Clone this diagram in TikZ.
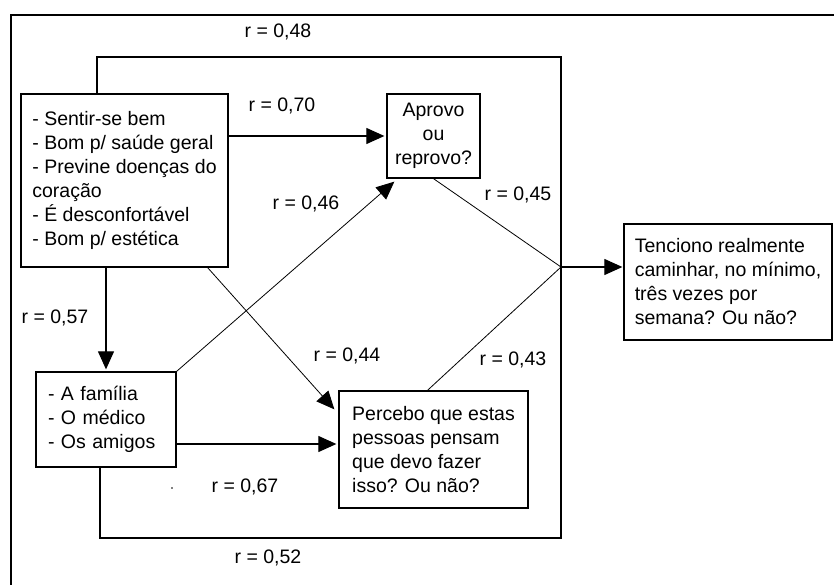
\documentclass[tikz,border=0pt]{standalone}
\usepackage{fontspec}
\setmainfont{Liberation Sans}
\usetikzlibrary{arrows.meta}

\tikzset{
	caixa/.style={draw, line width=1.3pt, align=left, minimum width=#1},
	seta/.style={-{Triangle[length=18pt, width=16pt]}},
	fio/.style={line width=1.1pt},
	diag/.style={line width=0.8pt},
	rotulo/.style={inner sep=0pt}
}

\begin{document}
\begin{tikzpicture}[x=1pt, y=-1pt, font=\fontsize{19.5}{24}\selectfont, line width=1.1pt]
	\useasboundingbox (0,0) rectangle (834,585);
	% Frame:
	\draw[line width=1.6pt] (11,585) |- (834,15);
	% Boxes:
	\node[caixa=207pt, minimum height=173pt] (sent) at (124.5,180.5)
		{- Sentir-se bem\\- Bom p/ saúde geral\\- Previne doenças do\\coração\\- É desconfortável\\- Bom p/ estética};
	\node[caixa=140pt, minimum height=95pt, text width=116pt] (fam) at (106,419.5)
		{- A família\\- O médico\\- Os amigos};
	\node[caixa=93pt, minimum height=84pt, align=center, inner sep=2pt] (aprovo) at (433.5,136)
		{Aprovo\\ou\\reprovo?};
	\node[caixa=189pt, minimum height=117pt] (perc) at (433.5,449.5)
		{Percebo que estas\\pessoas pensam\\que devo fazer\\isso? Ou não?};
	\node[caixa=208pt, minimum height=116pt] (tenc) at (728,282)
		{Tenciono realmente\\caminhar, no mínimo,\\três vezes por\\semana? Ou não?};
	\coordinate (junc) at (561,267);
	\coordinate (t48) at (97,57);
	\coordinate (b52) at (100,538);
	% Paths and arrows:
	\draw[fio] (sent.north -| t48) -- (t48) -| (junc);
	\draw[fio] (fam.south -| b52) -- (b52) -| (junc);
	\draw[fio, seta] (junc) -- ([xshift=-1pt]junc -| tenc.west);
	\draw[fio, seta] (sent.east |- aprovo.west) -- ([xshift=-2pt]aprovo.west);
	\draw[fio, seta] (fam.north |- sent.south) -- ([yshift=2pt]fam.north);
	\draw[fio, seta] ([yshift=-24.5pt]fam.east) -- ([yshift=-24.5pt, xshift=-2pt]fam.east -| perc.west);
	\draw[diag, seta] (fam.north east) -- ([xshift=8pt, yshift=-3pt]aprovo.south west);
	\draw[diag, seta] ([xshift=-21pt]sent.south east) -- ([xshift=-4pt, yshift=-19pt]perc.north west);
	\draw[diag] (aprovo.south) -- (junc);
	\draw[diag] ([xshift=-6pt]perc.north) -- (junc);
	\fill (172,488) circle (0.8pt);
	% Labels:
	\node[rotulo] (r48) at (278,32) {r = 0,48};
	\node[rotulo] (r70) at (282,106) {r = 0,70};
	\node[rotulo] (r46) at (306,204) {r = 0,46};
	\node[rotulo] (r45) at (518,195) {r = 0,45};
	\node[rotulo] (r57) at (55,318) {r = 0,57};
	\node[rotulo] (r44) at (347,356) {r = 0,44};
	\node[rotulo] (r43) at (513,360) {r = 0,43};
	\node[rotulo] (r67) at (245,487) {r = 0,67};
	\node[rotulo] (r52) at (268,558) {r = 0,52};
\end{tikzpicture}
\end{document}
